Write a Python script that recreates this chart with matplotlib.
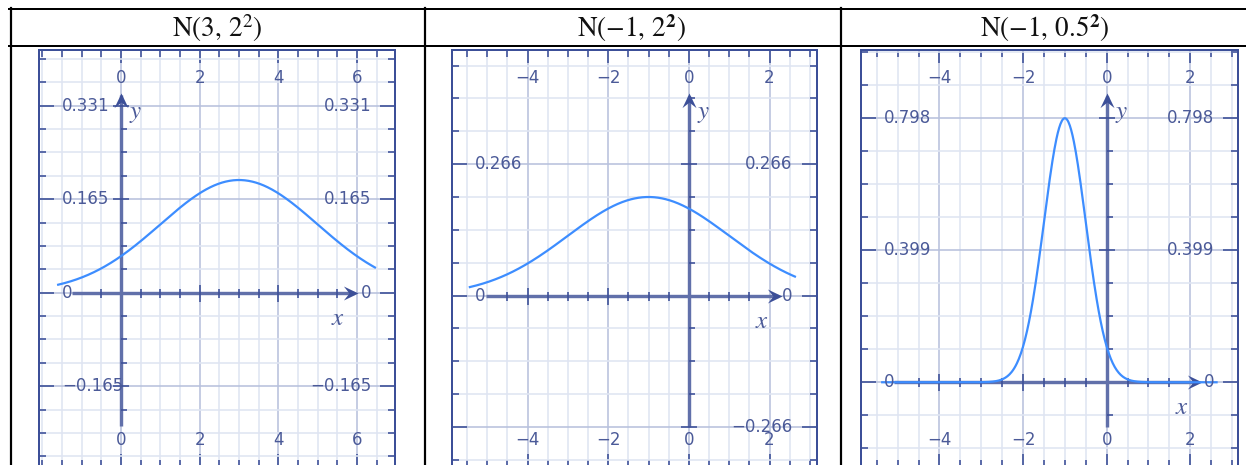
import numpy as np
import matplotlib.pyplot as plt
from matplotlib.lines import Line2D
from matplotlib.path import Path

plt.rcParams["mathtext.fontset"] = "stix"

W, H = 1246, 465
DPI = 100
PT = 72 / DPI  # points per pixel

# ---- 数据: 三个正态分布 ----
TITLES = [r"$\mathrm{N}(3,\,2^{2})$",
          r"$\mathrm{N}(-1,\,2^{\mathbf{2}})$",
          r"$\mathrm{N}(-1,\,0.5^{\mathbf{2}})$"]
MU = [3, -1, -1]
SIGMA = [2, 2, 0.5]

XLIM = [(-2.08, 6.97), (-5.88, 3.17), (-5.885, 3.15)]
YLIM = [(-0.3085, 0.4296), (-0.347, 0.497), (-0.256, 1.004)]
CURVE_SPAN = [(-1.6, 6.46), (-5.43, 2.63), (-5.37, 2.63)]
XAXIS_SPAN = [(-1.25, 6.03), (-5.02, 2.30), (-5.1, 2.27)]
YAXIS_SPAN = [(-0.236, 0.3535), (-0.266, 0.41), (-0.134, 0.874)]
XTICK_SPAN = [(-0.5, 5.5), (-4.5, 1.5), (-4.5, 1.5)]
XLABELS = [[0, 2, 4, 6], [-4, -2, 0, 2], [-4, -2, 0, 2]]
YSTEP = [0.331 / 8, 0.266 / 4, 0.399 / 4]
YLABELS_LEFT = [[0.331, 0.165, 0, -0.165], [0.266, 0], [0.798, 0.399, 0]]
YLABELS_RIGHT = [[0.331, 0.165, 0, -0.165], [0.266, 0, -0.266], [0.798, 0.399, 0]]

# ---- 版面 (像素) ----
FRAMES = [(39.3, 395.0), (451.7, 816.7), (860.7, 1238.3)]
FRAME_TOP, FRAME_BOTTOM = 50, 467
TITLE_X = [217, 632, 1045]

FRAME_C = "#3c4f98"
AXIS_C = "#6170aa"
TEXT_C = "#4b5a98"
GRID_MINOR = "#dfe5f2"
GRID_MAJOR = "#b8c1dd"
CURVE_C = "#3d8dff"


def fmt(v):
    s = f"{abs(v):g}"
    return ("−" + s) if v < 0 else s


# 燕尾箭头
_arrow = np.array([[0, 0], [-1, 0.48], [-0.62, 0], [-1, -0.48], [0, 0]])
ARROW_RIGHT = Path(_arrow, closed=True)
ARROW_UP = Path(_arrow[:, ::-1], closed=True)

fig = plt.figure(figsize=(W / DPI, H / DPI), dpi=DPI)

# 表格线
def hline(y, x0, x1):
    fig.add_artist(Line2D([x0 / W, x1 / W], [1 - y / H, 1 - y / H],
                          color="black", lw=2 * PT, transform=fig.transFigure))

def vline(x, y0, y1):
    fig.add_artist(Line2D([x / W, x / W], [1 - y0 / H, 1 - y1 / H],
                          color="black", lw=2.2 * PT, transform=fig.transFigure))

hline(9.5, 9, W)
hline(46.5, 9, W)
vline(10.5, 8.5, H)
vline(424.5, 8.5, H)
vline(841.5, 8.5, H)

for i in range(3):
    fig.text(TITLE_X[i] / W, 1 - 28.5 / H, TITLES[i], ha="center", va="center",
             fontsize=19.5, color="#111111")

    l, r = FRAMES[i]
    ax = fig.add_axes([l / W, 1 - FRAME_BOTTOM / H, (r - l) / W,
                       (FRAME_BOTTOM - FRAME_TOP) / H])
    ax.set_xlim(*XLIM[i])
    ax.set_ylim(*YLIM[i])
    ax.set_axisbelow(True)
    for s in ax.spines.values():
        s.set_color(FRAME_C)
        s.set_linewidth(2 * PT)

    # 网格与边框刻度
    x_minor = np.arange(np.ceil(XLIM[i][0] * 2) / 2, XLIM[i][1], 0.5)
    x_minor = [v for v in x_minor if v not in XLABELS[i]]
    step = YSTEP[i]
    k0, k1 = int(np.ceil(YLIM[i][0] / step)), int(np.floor(YLIM[i][1] / step))
    ymaj = sorted(set(YLABELS_LEFT[i]) | set(YLABELS_RIGHT[i]))
    y_minor = [k * step for k in range(k0, k1 + 1)
               if min(abs(k * step - m) for m in ymaj) > step * 0.2]
    ax.set_xticks(XLABELS[i])
    ax.set_xticks(x_minor, minor=True)
    ax.set_yticks(ymaj)
    ax.set_yticks(y_minor, minor=True)
    ax.grid(which="minor", color=GRID_MINOR, lw=1.6 * PT)
    ax.grid(which="major", color=GRID_MAJOR, lw=1.6 * PT)
    ax.tick_params(which="both", direction="in", top=True, right=True,
                   labelbottom=False, labelleft=False, color=FRAME_C,
                   width=1.6 * PT)
    ax.tick_params(which="minor", length=7 * PT)
    ax.tick_params(axis="x", which="major", length=13 * PT)
    ax.tick_params(axis="y", which="major", length=15 * PT)

    # 坐标轴
    xa0, xa1 = XAXIS_SPAN[i]
    ya0, ya1 = YAXIS_SPAN[i]
    ax.plot([xa0, xa1 - 0.1], [0, 0], color=AXIS_C, lw=3.4 * PT,
            solid_capstyle="butt", zorder=3)
    ax.plot([0, 0], [ya0, ya1 - 0.1 * step], color=AXIS_C, lw=3.4 * PT,
            solid_capstyle="butt", zorder=3)
    ax.plot([xa1], [0], marker=ARROW_RIGHT, ms=21, color=FRAME_C, mew=0,
            zorder=3)
    ax.plot([0], [ya1], marker=ARROW_UP, ms=21, color=FRAME_C, mew=0, zorder=3)

    # 轴上刻度
    xt = np.arange(XTICK_SPAN[i][0], XTICK_SPAN[i][1] + 0.01, 0.5)
    xt_minor = [v for v in xt if v != 0 and v not in XLABELS[i]]
    xt_major = [v for v in xt if v != 0 and v in XLABELS[i]]
    ax.plot(xt_minor, np.zeros(len(xt_minor)), ls="none", marker="|",
            ms=9 * PT, mew=1.6 * PT, color=FRAME_C, zorder=3)
    ax.plot(xt_major, np.zeros(len(xt_major)), ls="none", marker="|",
            ms=17 * PT, mew=1.6 * PT, color=FRAME_C, zorder=3)
    yt = [k * step for k in range(k0, k1 + 1)
          if ya0 < k * step < ya1 and k != 0]
    yt_minor = [v for v in yt if min(abs(v - m) for m in ymaj) > step * 0.2]
    yt_major = [m for m in ymaj if m != 0 and ya0 <= m < ya1]
    ax.plot(np.zeros(len(yt_minor)), yt_minor, ls="none", marker=1,
            ms=6 * PT, mew=1.6 * PT, color=FRAME_C, zorder=3)
    ax.plot(np.zeros(len(yt_major)), yt_major, ls="none", marker="_",
            ms=16 * PT, mew=1.6 * PT, color=FRAME_C, zorder=3)

    # 密度曲线
    xs = np.linspace(*CURVE_SPAN[i], 500)
    ys = np.exp(-0.5 * ((xs - MU[i]) / SIGMA[i]) ** 2) / (SIGMA[i] * np.sqrt(2 * np.pi))
    ax.plot(xs, ys, color=CURVE_C, lw=1.6, zorder=4)

    # 刻度文字
    tkw = dict(fontsize=12, color=TEXT_C, va="center", zorder=5,
               textcoords="offset points", annotation_clip=False)
    for v in YLABELS_LEFT[i]:
        ax.annotate(fmt(v), (0, v), xycoords=("axes fraction", "data"),
                    xytext=(23 * PT, 0), ha="left", **tkw)
    for v in YLABELS_RIGHT[i]:
        ax.annotate(fmt(v), (1, v), xycoords=("axes fraction", "data"),
                    xytext=(-24 * PT, 0), ha="right", **tkw)
    for v in XLABELS[i]:
        ax.annotate(fmt(v), (v, 1), xycoords=("data", "axes fraction"),
                    xytext=(0, -28 * PT), ha="center", **tkw)
        ax.annotate(fmt(v), (v, 0), xycoords=("data", "axes fraction"),
                    xytext=(0, (FRAME_BOTTOM - 440) * PT), ha="center", **tkw)

    # 轴名
    ax.annotate("$y$", (0, ya1), xytext=(15 * PT, -20 * PT),
                textcoords="offset points", ha="center", va="center",
                fontsize=18, color=TEXT_C, zorder=5)
    ax.annotate("$x$", (xa1, 0), xytext=(-20 * PT, -25 * PT),
                textcoords="offset points", ha="center", va="center",
                fontsize=18, color=TEXT_C, zorder=5)

fig.savefig("out.png", dpi=DPI)
